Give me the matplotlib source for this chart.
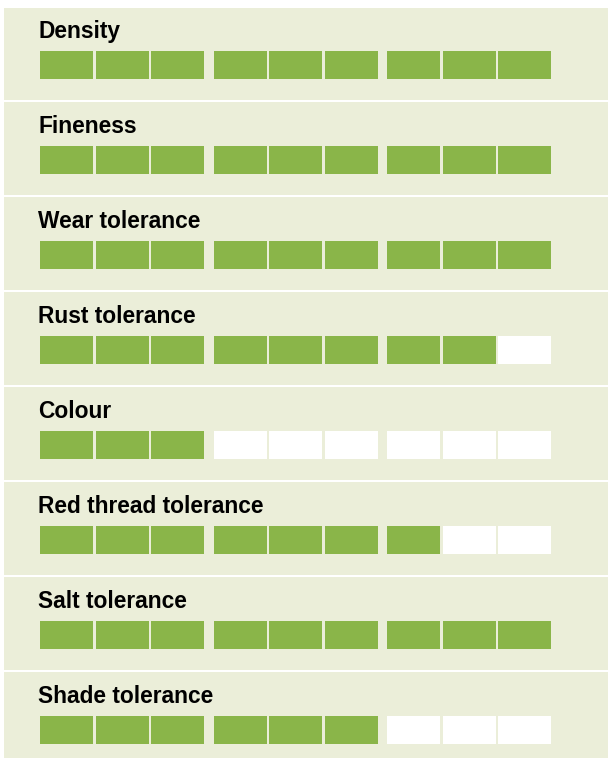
import matplotlib.pyplot as plt
from matplotlib.patches import Rectangle

# scores out of 9 (three groups of three boxes)
traits = ['Density', 'Fineness', 'Wear tolerance', 'Rust tolerance', 'Colour',
          'Red thread tolerance', 'Salt tolerance', 'Shade tolerance']
scores = [9, 9, 9, 8, 3, 7, 9, 6]
max_score = 9

bg = '#ebeed9'
green = '#8ab549'

fig = plt.figure(figsize=(6.08, 7.58), dpi=100)
ax = fig.add_axes([0, 0, 1, 1])
ax.set_xlim(0, 608)
ax.set_ylim(758, 0)
ax.axis('off')

# panel background
ax.add_patch(Rectangle((4, 8), 604, 750, color=bg, lw=0))

row_h = 95
for i, (name, s) in enumerate(zip(traits, scores)):
    top = 8 + i * row_h
    if i > 0:
        ax.add_patch(Rectangle((4, top - 3), 604, 2, color='white', lw=0))
    ax.text(38, top + 30, name, fontsize=16.4, fontweight='bold',
            family='Liberation Sans', va='baseline', ha='left', color='black')
    for j in range(max_score):
        x = 40 + (j // 3) * 173.5 + (j % 3) * 55.5
        ax.bar(x, 28, width=53, bottom=top + 43, align='edge',
               color=green if j < s else 'white', lw=0)

fig.savefig('out.png', dpi=100)
